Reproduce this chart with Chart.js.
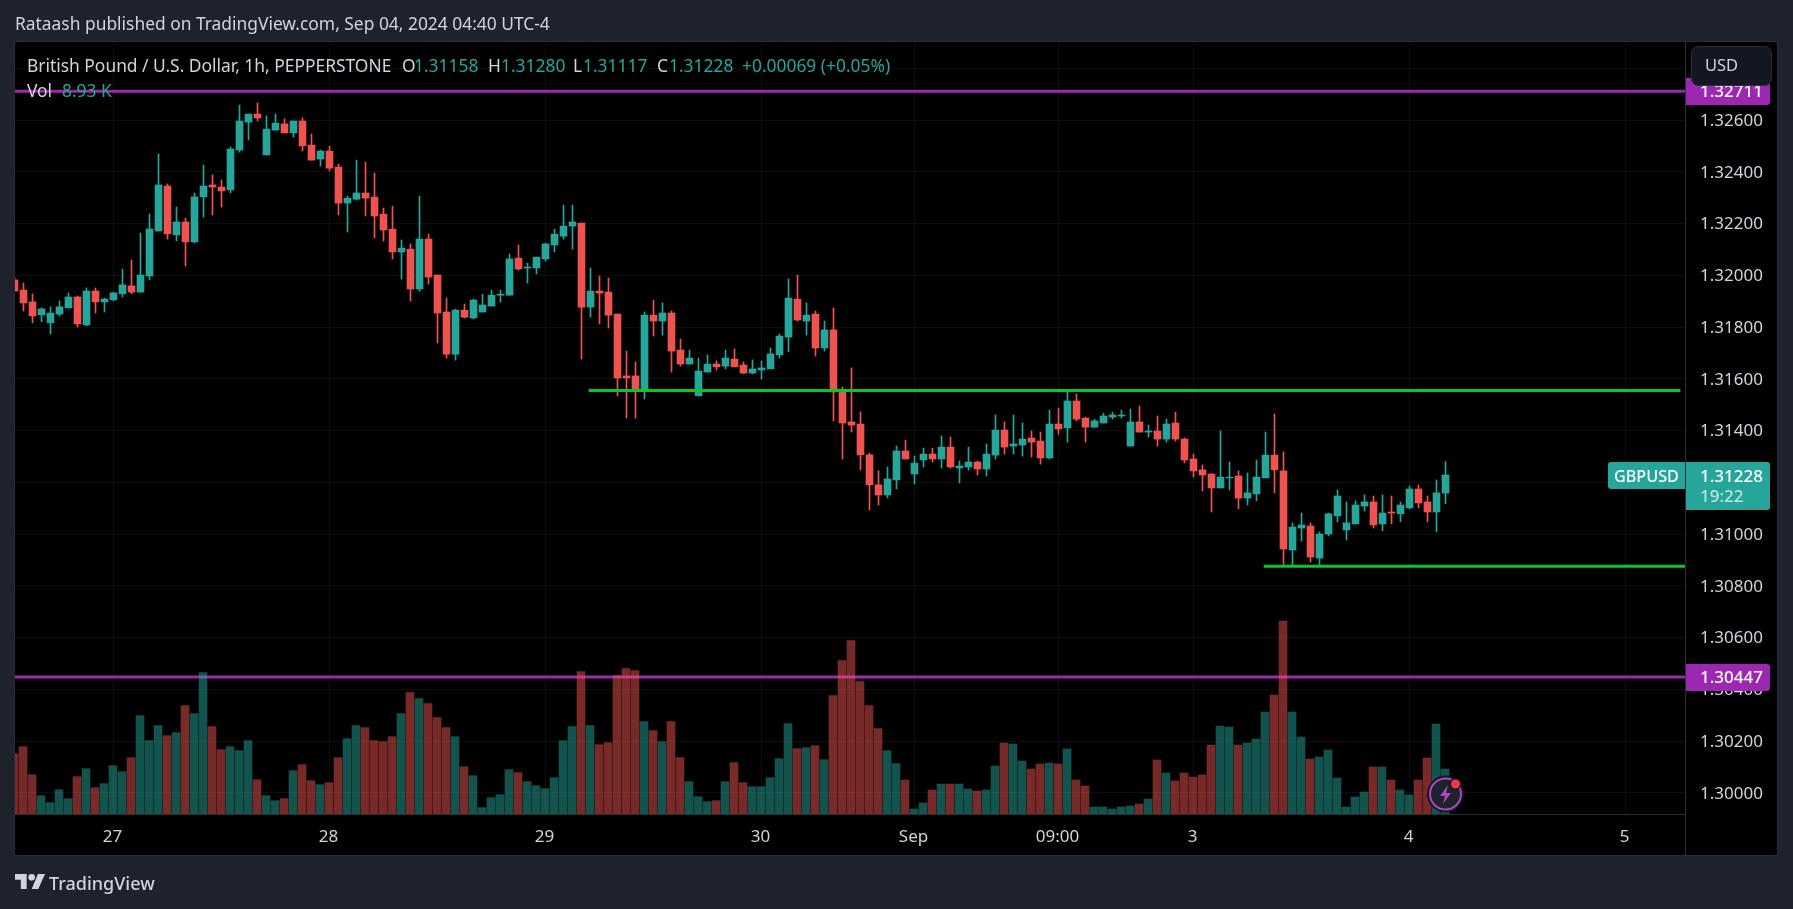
<!DOCTYPE html>
<html>
<head>
<meta charset="utf-8">
<title>GBPUSD 1h</title>
<script src="https://cdn.jsdelivr.net/npm/chart.js@4"></script>
<style>
  html, body { margin: 0; padding: 0; background: #1e222d; overflow: hidden; }
  #wrap { position: relative; width: 1793px; height: 909px; font-family: "Noto Sans", sans-serif; }
  canvas { position: absolute; left: 0; top: 0; }
  .t { position: absolute; white-space: nowrap; line-height: 20px; font-size: 17.4px; color: #d1d4dc; }
  .v { color: #26a69a; }
</style>
</head>
<body>
<div id="wrap">
  <canvas id="main-chart" width="1793" height="909"></canvas>
  <span class="t" style="left:15px;top:13px;color:#d1d4dc">Rataash published on TradingView.com, Sep 04, 2024 04:40 UTC-4</span>
  <span class="t" style="left:27px;top:55px">British Pound / U.S. Dollar, 1h, PEPPERSTONE</span>
  <span class="t" style="left:402px;top:55px">O</span><span class="t v" style="left:414px;top:55px">1.31158</span>
  <span class="t" style="left:488px;top:55px">H</span><span class="t v" style="left:501px;top:55px">1.31280</span>
  <span class="t" style="left:573px;top:55px">L</span><span class="t v" style="left:583px;top:55px">1.31117</span>
  <span class="t" style="left:657px;top:55px">C</span><span class="t v" style="left:669px;top:55px">1.31228</span>
  <span class="t v" style="left:742px;top:55px">+0.00069 (+0.05%)</span>
  <span class="t" style="left:27px;top:80px">Vol</span><span class="t v" style="left:62px;top:80px">8.93 K</span>
  <svg style="position:absolute;left:15px;top:874px" width="30" height="15" viewBox="0 0 36 18"><path fill="#d1d4dc" d="M14 18H7V7H0V0h14v18zM28 18h-8L27.5 0H36l-8 18z"/><circle fill="#d1d4dc" cx="20" cy="4" r="4"/></svg>
  <span class="t" style="left:49px;top:873px;font-size:18px;font-weight:500">TradingView</span>
  <svg style="position:absolute;left:1425px;top:773px" width="42" height="42" viewBox="0 0 42 42">
    <circle cx="20.5" cy="21" r="17" fill="#1e222d" stroke="#131722" stroke-width="3"/>
    <circle cx="20.5" cy="21" r="15.5" fill="#1e222d" stroke="#ab47bc" stroke-width="2"/>
    <path fill="#ab47bc" d="M23 12l-8 11h5l-2 8 8-11h-5z"/>
    <circle cx="30.5" cy="11" r="6" fill="#131722"/><circle cx="30.5" cy="11" r="4.5" fill="#f23645"/>
  </svg>
</div>
<script>
// GBPUSD 1h candles + volume

const opens = [
  1.31982,1.31943,1.31897,1.31847,1.31816,1.31850,1.31874,1.31916,1.31808,1.31939,
  1.31897,1.31905,1.31928,1.31959,1.31935,1.31997,1.32171,1.32345,1.32156,1.32206,
  1.32129,1.32303,1.32349,1.32341,1.32330,1.32484,1.32592,1.32623,1.32465,1.32561,
  1.32585,1.32550,1.32596,1.32503,1.32449,1.32480,1.32418,1.32279,1.32294,1.32318,
  1.32302,1.32236,1.32178,1.32090,1.32101,1.31947,1.32140,1.32001,1.31858,1.31695,
  1.31865,1.31835,1.31858,1.31881,1.31923,1.31923,1.32066,1.32028,1.32028,1.32063,
  1.32117,1.32151,1.32190,1.32202,1.31877,1.31939,1.31935,1.31850,1.31611,1.31611,
  1.31553,1.31846,1.31823,1.31854,1.31711,1.31657,1.31534,1.31626,1.31657,1.31649,
  1.31676,1.31653,1.31622,1.31634,1.31638,1.31692,1.31761,1.31908,1.31823,1.31850,
  1.31719,1.31789,1.31553,1.31433,1.31425,1.31306,1.31190,1.31151,1.31209,1.31321,
  1.31232,1.31286,1.31309,1.31290,1.31336,1.31255,1.31259,1.31278,1.31251,1.31305,
  1.31402,1.31340,1.31344,1.31371,1.31359,1.31294,1.31425,1.31410,1.31514,1.31448,
  1.31413,1.31429,1.31452,1.31456,1.31340,1.31433,1.31394,1.31398,1.31367,1.31429,
  1.31367,1.31290,1.31248,1.31232,1.31178,1.31217,1.31224,1.31139,1.31155,1.31217,
  1.31305,1.31244,1.30938,1.31023,1.31031,1.30907,1.31000,1.31070,1.31016,1.31039,
  1.31108,1.31124,1.31039,1.31085,1.31078,1.31101,1.31174,1.31124,1.31085,1.31158
];
const closes = [
  1.31939,1.31893,1.31843,1.31870,1.31854,1.31878,1.31916,1.31812,1.31939,1.31897,
  1.31908,1.31932,1.31963,1.31935,1.32001,1.32179,1.32349,1.32160,1.32206,1.32129,
  1.32303,1.32345,1.32341,1.32326,1.32488,1.32596,1.32623,1.32608,1.32565,1.32588,
  1.32550,1.32596,1.32500,1.32445,1.32480,1.32414,1.32279,1.32298,1.32318,1.32298,
  1.32229,1.32175,1.32090,1.32105,1.31947,1.32140,1.31993,1.31854,1.31695,1.31865,
  1.31838,1.31904,1.31885,1.31923,1.31927,1.32063,1.32024,1.32032,1.32070,1.32121,
  1.32159,1.32190,1.32206,1.31877,1.31939,1.31931,1.31846,1.31603,1.31603,1.31553,
  1.31846,1.31823,1.31854,1.31707,1.31657,1.31680,1.31630,1.31657,1.31646,1.31680,
  1.31646,1.31622,1.31638,1.31642,1.31696,1.31765,1.31912,1.31827,1.31846,1.31719,
  1.31789,1.31549,1.31429,1.31421,1.31306,1.31190,1.31151,1.31213,1.31321,1.31290,
  1.31274,1.31309,1.31290,1.31336,1.31259,1.31263,1.31278,1.31251,1.31309,1.31402,
  1.31336,1.31348,1.31367,1.31355,1.31294,1.31425,1.31406,1.31514,1.31444,1.31413,
  1.31437,1.31456,1.31460,1.31460,1.31433,1.31394,1.31398,1.31367,1.31425,1.31367,
  1.31286,1.31244,1.31228,1.31178,1.31220,1.31220,1.31139,1.31159,1.31220,1.31305,
  1.31248,1.30942,1.31027,1.31035,1.30911,1.31000,1.31078,1.31147,1.31043,1.31112,
  1.31124,1.31035,1.31081,1.31081,1.31112,1.31174,1.31120,1.31085,1.31159,1.31228
];
const highs = [
  1.31990,1.31970,1.31928,1.31874,1.31878,1.31901,1.31932,1.31920,1.31951,1.31951,
  1.31912,1.31935,1.32024,1.32059,1.32163,1.32237,1.32469,1.32353,1.32264,1.32221,
  1.32318,1.32426,1.32388,1.32368,1.32496,1.32658,1.32623,1.32666,1.32616,1.32623,
  1.32604,1.32596,1.32608,1.32546,1.32484,1.32499,1.32430,1.32306,1.32445,1.32437,
  1.32395,1.32260,1.32267,1.32136,1.32121,1.32306,1.32159,1.32001,1.31912,1.31869,
  1.31889,1.31908,1.31927,1.31943,1.31943,1.32082,1.32117,1.32047,1.32070,1.32124,
  1.32178,1.32271,1.32271,1.32202,1.32028,1.31997,1.31989,1.31850,1.31707,1.31665,
  1.31858,1.31904,1.31893,1.31862,1.31754,1.31711,1.31680,1.31692,1.31669,1.31711,
  1.31715,1.31665,1.31673,1.31669,1.31719,1.31773,1.31986,1.32001,1.31893,1.31862,
  1.31823,1.31874,1.31568,1.31642,1.31472,1.31313,1.31244,1.31259,1.31340,1.31363,
  1.31301,1.31332,1.31332,1.31379,1.31375,1.31282,1.31336,1.31282,1.31348,1.31460,
  1.31433,1.31460,1.31429,1.31398,1.31394,1.31479,1.31487,1.31549,1.31541,1.31452,
  1.31444,1.31467,1.31471,1.31479,1.31483,1.31495,1.31421,1.31456,1.31444,1.31471,
  1.31371,1.31309,1.31267,1.31232,1.31398,1.31278,1.31244,1.31236,1.31286,1.31394,
  1.31464,1.31317,1.31043,1.31081,1.31043,1.31008,1.31081,1.31170,1.31124,1.31128,
  1.31151,1.31147,1.31151,1.31147,1.31124,1.31186,1.31190,1.31147,1.31209,1.31280
];
const lows = [
  1.31939,1.31862,1.31816,1.31820,1.31773,1.31843,1.31874,1.31800,1.31804,1.31854,
  1.31858,1.31901,1.31916,1.31928,1.31935,1.31982,1.32171,1.32140,1.32133,1.32036,
  1.32125,1.32225,1.32233,1.32264,1.32318,1.32476,1.32523,1.32596,1.32465,1.32561,
  1.32550,1.32534,1.32480,1.32445,1.32422,1.32403,1.32233,1.32167,1.32291,1.32229,
  1.32144,1.32132,1.32063,1.31985,1.31900,1.31939,1.31966,1.31738,1.31680,1.31672,
  1.31835,1.31831,1.31858,1.31881,1.31896,1.31923,1.32020,1.31970,1.32005,1.32055,
  1.32090,1.32140,1.32101,1.31676,1.31838,1.31812,1.31796,1.31534,1.31448,1.31448,
  1.31522,1.31765,1.31769,1.31626,1.31649,1.31657,1.31534,1.31626,1.31634,1.31638,
  1.31646,1.31619,1.31619,1.31599,1.31638,1.31680,1.31704,1.31823,1.31769,1.31688,
  1.31707,1.31437,1.31290,1.31394,1.31248,1.31093,1.31112,1.31139,1.31174,1.31290,
  1.31193,1.31259,1.31278,1.31255,1.31255,1.31197,1.31247,1.31228,1.31224,1.31290,
  1.31309,1.31309,1.31301,1.31297,1.31270,1.31290,1.31386,1.31355,1.31437,1.31355,
  1.31413,1.31429,1.31444,1.31448,1.31340,1.31394,1.31375,1.31340,1.31355,1.31359,
  1.31275,1.31220,1.31166,1.31085,1.31178,1.31170,1.31097,1.31112,1.31128,1.31217,
  1.31159,1.30880,1.30880,1.30973,1.30892,1.30877,1.30993,1.31047,1.30977,1.31039,
  1.31089,1.31023,1.31012,1.31039,1.31047,1.31097,1.31101,1.31047,1.31008,1.31117
];
// volume in thousands
const volumes = [
  11.97,13.36,7.81,3.64,2.25,4.83,3.04,7.41,9.00,5.23,
  6.02,9.59,8.40,11.18,19.51,14.55,17.53,15.55,16.14,21.50,
  19.91,28.05,17.33,12.77,13.36,12.57,14.55,6.81,3.64,2.65,
  3.04,8.60,9.79,6.62,5.82,6.22,11.18,14.95,17.53,17.13,
  14.55,14.35,15.35,19.91,24.08,22.89,21.90,19.12,17.13,15.35,
  9.39,7.61,1.26,3.24,3.84,8.80,8.20,6.42,5.62,5.03,
  7.21,14.55,17.33,28.25,17.53,13.76,14.16,27.45,28.84,28.44,
  18.32,16.54,14.35,18.32,11.18,6.42,3.44,2.45,2.65,6.42,
  10.19,6.22,5.42,5.42,7.21,10.98,17.93,12.97,13.16,13.56,
  10.78,23.48,30.43,34.40,26.26,21.50,16.93,12.57,9.99,6.75,
  0.99,2.18,4.76,5.95,5.95,5.95,4.96,4.56,4.76,9.53,
  14.09,13.89,10.52,8.93,9.92,10.12,9.92,12.90,6.75,5.56,
  1.39,1.39,0.99,1.39,1.59,1.98,2.98,10.72,8.14,6.55,
  8.14,7.34,7.74,13.69,17.46,17.27,13.69,14.09,14.88,20.24,
  23.62,38.30,20.24,15.28,10.91,11.31,12.70,7.14,1.39,3.37,
  4.37,9.33,9.33,6.75,4.76,3.77,6.75,11.11,17.86,8.93
];

const timeTickBars   = [11, 35, 59, 83, 100, 116, 131, 155, 179];
const timeTickLabels = ['27', '28', '29', '30', 'Sep', '09:00', '3', '4', '5'];
const priceTicks = [1.300, 1.302, 1.304, 1.306, 1.308, 1.310, 1.312, 1.314, 1.316,
                    1.318, 1.320, 1.322, 1.324, 1.326, 1.328];

// drawn levels
const purpleLevels = [1.32711, 1.30447];
const greenLevels  = [1.31555, 1.30875];
const greenFrom    = [63.8, 138.8];
const greenTo      = [185.1, 185.6];
const lastPrice    = 1.31228;

const UP      = '#26a69a';
const DOWN    = '#ef5350';
const UP_VOL  = 'rgba(38,166,154,0.5)';
const DOWN_VOL = 'rgba(239,83,80,0.5)';
const PURPLE  = '#9c27b0';
const GREEN   = '#0cc81c';
const PANEL   = '#000000';
const BG      = '#1e222d';
const LINE    = '#2a2e39';
const GRID    = 'rgba(242,242,242,0.06)';
const FONT    = '"Noto Sans", sans-serif';

const isUp = i => closes[i] >= opens[i];
const barColors = (up, down) => opens.map((_, i) => isUp(i) ? up : down);

function levelLine(from, to, y, color, width, order) {
  return {
    type: 'line',
    data: [{ x: from, y }, { x: to, y }],
    borderColor: color, borderWidth: width, pointRadius: 0, order,
    xAxisID: 'x', yAxisID: 'y'
  };
}

// pane frame behind everything
const framePlugin = {
  id: 'frame',
  beforeDraw(chart) {
    const c = chart.ctx;
    const a = chart.chartArea;
    c.save();
    c.fillStyle = BG;
    c.fillRect(0, 0, chart.width, chart.height);
    c.fillStyle = PANEL;
    c.fillRect(a.left, a.top, chart.width - 16 - a.left, 855 - a.top);
    c.strokeStyle = LINE;
    c.lineWidth = 1;
    c.strokeRect(a.left - 0.5, a.top - 0.5, chart.width - 16 - a.left + 1, 855 - a.top + 1);
    c.restore();
  }
};

function priceBox(c, x, y, w, h, color, radius) {
  c.fillStyle = color;
  c.beginPath();
  c.roundRect(x, y, w, h, radius);
  c.fill();
}

// price labels on the axis + USD button, they sit on top of the tick labels
const labelsPlugin = {
  id: 'labels',
  afterDraw(chart) {
    const c = chart.ctx;
    const a = chart.chartArea;
    const sy = chart.scales.y;
    c.save();

    // axis separator runs down through the time axis
    c.strokeStyle = LINE;
    c.beginPath();
    c.moveTo(a.right + 0.5, a.top);
    c.lineTo(a.right + 0.5, 855);
    c.stroke();

    c.textBaseline = 'middle';
    c.font = '500 17px ' + FONT;

    purpleLevels.forEach(level => {
      const y = Math.round(sy.getPixelForValue(level));
      priceBox(c, a.right + 1, y - 13, 84, 27, PURPLE, [0, 3, 3, 0]);
      c.fillStyle = '#ffffff';
      c.textAlign = 'left';
      c.fillText(level.toFixed(5), a.right + 15, y + 1);
    });

    const yLast = Math.round(sy.getPixelForValue(lastPrice));
    priceBox(c, a.right - 77, yLast - 13, 77, 27, UP, [3, 0, 0, 3]);
    priceBox(c, a.right + 1, yLast - 13, 84, 48, UP, [0, 3, 3, 0]);
    c.fillStyle = '#ffffff';
    c.textAlign = 'left';
    c.fillText(lastPrice.toFixed(5), a.right + 15, yLast + 2);
    c.font = '500 16.2px ' + FONT;
    c.fillText('GBPUSD', a.right - 71, yLast + 2);
    c.font = '500 17px ' + FONT;
    c.fillStyle = 'rgba(255,255,255,0.7)';
    c.fillText('19:22', a.right + 15, yLast + 22);

    // USD button
    c.fillStyle = '#131722';
    c.strokeStyle = LINE;
    c.beginPath();
    c.roundRect(a.right + 6.5, 46.5, 80, 39, 7);
    c.fill();
    c.stroke();
    c.fillStyle = '#d1d4dc';
    c.font = '16.5px ' + FONT;
    c.fillText('USD', a.right + 20, 66);
    c.restore();
  }
};

new Chart(document.getElementById('main-chart').getContext('2d'), {
  type: 'bar',
  data: {
    datasets: [
      // purple goes under the volume bars, they tint it where they cross
      ...purpleLevels.map(level => levelLine(0, 186, level, PURPLE, 3, 10)),
      {
        label: 'Vol',
        data: volumes.map((v, i) => ({ x: i, y: v })),
        backgroundColor: barColors(UP_VOL, DOWN_VOL),
        barThickness: 8, grouped: false, order: 5,
        xAxisID: 'xVol', yAxisID: 'yVol'
      },
      {
        label: 'wick',
        data: highs.map((h, i) => ({ x: i, y: [lows[i], h] })),
        backgroundColor: barColors(UP, DOWN),
        barThickness: 1, grouped: false, order: 4,
        xAxisID: 'x', yAxisID: 'y'
      },
      {
        label: 'body',
        data: opens.map((o, i) => ({ x: i, y: [o, closes[i]] })),
        backgroundColor: barColors(UP, DOWN),
        barThickness: 7, grouped: false, order: 3,
        xAxisID: 'x', yAxisID: 'y'
      },
      ...greenLevels.map((level, i) => levelLine(greenFrom[i], greenTo[i], level, GREEN, 3, 2))
    ]
  },
  plugins: [framePlugin, labelsPlugin],
  options: {
    responsive: false,
    animation: false,
    devicePixelRatio: 1,
    layout: { padding: { left: 15, top: 42, right: 16, bottom: 54 } },
    plugins: { legend: { display: false }, title: { display: false }, tooltip: { enabled: false } },
    scales: {
      x: {
        type: 'linear',
        offset: false,
        min: 0.0556, max: 185.611,
        afterBuildTicks: s => { s.ticks = timeTickBars.map(v => ({ value: v })); },
        afterFit: s => { s.height = 41; },
        border: { color: LINE },
        grid: { color: GRID, drawTicks: false, offset: false },
        ticks: {
          autoSkip: false, maxRotation: 0, padding: 13, labelOffset: -1,
          color: '#d1d4dc', font: { family: FONT, size: 17 },
          callback: v => timeTickLabels[timeTickBars.indexOf(v)]
        }
      },
      // same bars, half a pixel left so the 8px volume columns stay sharp
      xVol: { type: 'linear', display: false, offset: false, min: 0.111, max: 185.667 },
      y: {
        position: 'right',
        min: 1.299179, max: 1.329015,
        afterBuildTicks: s => { s.ticks = priceTicks.map(v => ({ value: v })); },
        afterFit: s => { s.width = 92; },
        border: { color: LINE },
        grid: { color: GRID, drawTicks: false },
        ticks: {
          autoSkip: false, padding: 15, labelOffset: 1,
          color: '#d1d4dc', font: { family: FONT, size: 17 },
          callback: v => v.toFixed(5)
        }
      },
      yVol: { display: false, min: 0, max: 153.2 }
    }
  }
});
</script>
</body>
</html>
